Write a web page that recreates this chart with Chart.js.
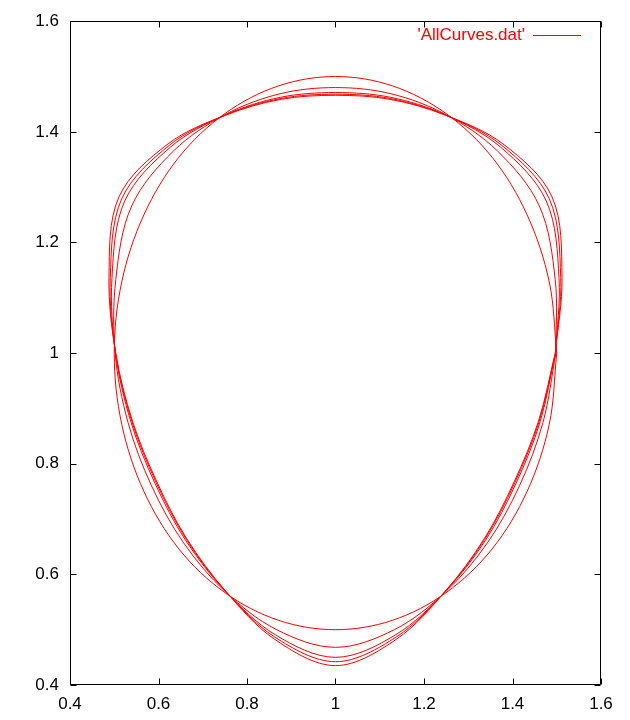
<!DOCTYPE html>
<html>
<head>
<meta charset="utf-8">
<script src="https://cdn.jsdelivr.net/npm/chart.js@4"></script>
<style>
  body { margin: 0; background: #fff; }
  canvas { display: block; }
</style>
</head>
<body>
<canvas id="curvesChart" width="630" height="720"></canvas>
<script>
// curve points (closed loops, 15 degree steps from the right side)
const curve1X = [1.5, 1.483, 1.433, 1.354, 1.25, 1.129, 1, 0.871, 0.75, 0.646, 0.567, 0.517, 0.5, 0.517, 0.567, 0.646, 0.75, 0.871, 1, 1.129, 1.25, 1.354, 1.433, 1.483, 1.5];
const curve1Y = [1, 1.129, 1.25, 1.354, 1.433, 1.483, 1.5, 1.483, 1.433, 1.354, 1.25, 1.129, 1, 0.871, 0.75, 0.646, 0.567, 0.517, 0.5, 0.517, 0.567, 0.646, 0.75, 0.871, 1];

const curve2X = [1.498, 1.4965, 1.4606, 1.3657, 1.249, 1.1256, 1, 0.8744, 0.751, 0.6343, 0.5394, 0.5035, 0.502, 0.5312, 0.5843, 0.6568, 0.751, 0.8661, 1, 1.1339, 1.249, 1.3432, 1.4157, 1.4688, 1.498];
const curve2Y = [1, 1.133, 1.266, 1.3657, 1.4313, 1.4688, 1.48, 1.4688, 1.4313, 1.3657, 1.266, 1.133, 1, 0.8744, 0.76, 0.6568, 0.5687, 0.5004, 0.4681, 0.5004, 0.5687, 0.6568, 0.76, 0.8744, 1];

const curve3X = [1.4972, 1.5052, 1.4763, 1.3726, 1.2486, 1.1239, 1, 0.8761, 0.7514, 0.6274, 0.5237, 0.4948, 0.5028, 0.5375, 0.5921, 0.6614, 0.7514, 0.8636, 1, 1.1364, 1.2486, 1.3386, 1.4079, 1.4625, 1.4972];
const curve3Y = [1, 1.1354, 1.275, 1.3726, 1.4306, 1.4625, 1.471, 1.4625, 1.4306, 1.3726, 1.275, 1.1354, 1, 0.8761, 0.7645, 0.6614, 0.5694, 0.491, 0.45, 0.491, 0.5694, 0.6614, 0.7645, 0.8761, 1];

const curve4X = [1.497, 1.509, 1.4831, 1.3756, 1.2485, 1.1233, 1, 0.8767, 0.7515, 0.6244, 0.5169, 0.491, 0.503, 0.5397, 0.5947, 0.6631, 0.7515, 0.8625, 1, 1.1375, 1.2485, 1.3369, 1.4053, 1.4603, 1.497];
const curve4Y = [1, 1.1364, 1.279, 1.3756, 1.4304, 1.4603, 1.468, 1.4603, 1.4304, 1.3756, 1.279, 1.1364, 1, 0.8767, 0.766, 0.6631, 0.5696, 0.4869, 0.4421, 0.4869, 0.5696, 0.6631, 0.766, 0.8767, 1];

const curve5X = [1.4967, 1.5119, 1.4893, 1.3783, 1.2484, 1.1229, 1, 0.8771, 0.7516, 0.6217, 0.5107, 0.4881, 0.5033, 0.5412, 0.5964, 0.6641, 0.7516, 0.8615, 1, 1.1385, 1.2484, 1.3359, 1.4036, 1.4588, 1.4967];
const curve5Y = [1, 1.1372, 1.2825, 1.3783, 1.4301, 1.4588, 1.466, 1.4588, 1.4301, 1.3783, 1.2825, 1.1372, 1, 0.8771, 0.767, 0.6641, 0.5699, 0.4832, 0.435, 0.4832, 0.5699, 0.6641, 0.767, 0.8771, 1];

const xTickLabels = ['0.4', '0.6', '0.8', '1', '1.2', '1.4', '1.6'];
const yTickLabels = ['0.4', '0.6', '0.8', '1', '1.2', '1.4', '1.6'];
const legendLabel = "'AllCurves.dat'";

const curves = [
    [curve1X, curve1Y],
    [curve2X, curve2Y],
    [curve3X, curve3Y],
    [curve4X, curve4Y],
    [curve5X, curve5Y]
];

const RED = '#ff0000';
const FONT = { family: "'Liberation Sans', Arial, sans-serif", size: 17 };

// gnuplot style box with inward ticks on all four sides
const framePlugin = {
    id: 'frame',
    afterDraw(chart) {
        const { ctx, chartArea: a, scales } = chart;
        const L = Math.round(a.left) + 0.5, R = Math.round(a.right) - 0.5;
        const T = Math.round(a.top) + 0.5, B = Math.round(a.bottom) - 0.5;
        const tick = 6;
        ctx.save();
        ctx.strokeStyle = '#000';
        ctx.lineWidth = 1;
        ctx.beginPath();
        ctx.rect(L, T, R - L, B - T);
        scales.x.ticks.forEach(t => {
            const px = Math.round(scales.x.getPixelForValue(t.value)) + 0.5;
            ctx.moveTo(px, B); ctx.lineTo(px, B - tick);
            ctx.moveTo(px, T); ctx.lineTo(px, T + tick);
        });
        scales.y.ticks.forEach(t => {
            const py = Math.round(scales.y.getPixelForValue(t.value)) + 0.5;
            ctx.moveTo(L, py); ctx.lineTo(L + tick, py);
            ctx.moveTo(R, py); ctx.lineTo(R - tick, py);
        });
        ctx.stroke();

        // key in the top right corner
        ctx.font = FONT.size + 'px ' + FONT.family;
        ctx.fillStyle = RED;
        ctx.textAlign = 'right';
        ctx.textBaseline = 'middle';
        ctx.fillText(legendLabel, 525, 35);
        ctx.strokeStyle = RED;
        ctx.beginPath();
        ctx.moveTo(533, 35.5);
        ctx.lineTo(581, 35.5);
        ctx.stroke();
        ctx.restore();
    }
};

const ctx = document.getElementById('curvesChart').getContext('2d');
new Chart(ctx, {
    type: 'scatter',
    data: {
        datasets: curves.map(([xs, ys]) => ({
            data: xs.map((x, i) => ({ x: x, y: ys[i] })),
            showLine: true,
            borderColor: RED,
            borderWidth: 1,
            pointRadius: 0,
            tension: 0.34,
            fill: false
        }))
    },
    options: {
        responsive: false,
        animation: false,
        devicePixelRatio: 1,
        layout: { padding: { left: 0, right: 29, top: 21, bottom: 0 } },
        plugins: { legend: { display: false }, tooltip: { enabled: false } },
        scales: {
            x: {
                type: 'linear',
                min: 0.4, max: 1.6,
                grid: { display: false, drawTicks: false },
                border: { display: false },
                ticks: {
                    stepSize: 0.2,
                    padding: 9,
                    color: '#000',
                    font: FONT,
                    maxRotation: 0,
                    callback: (v, i) => xTickLabels[i]
                },
                afterFit: s => { s.height = 35; }
            },
            y: {
                type: 'linear',
                min: 0.4, max: 1.6,
                grid: { display: false, drawTicks: false },
                border: { display: false },
                ticks: {
                    stepSize: 0.2,
                    padding: 11,
                    color: '#000',
                    font: FONT,
                    callback: (v, i) => yTickLabels[i]
                },
                afterFit: s => { s.width = 70; }
            }
        }
    },
    plugins: [framePlugin]
});
</script>
</body>
</html>
